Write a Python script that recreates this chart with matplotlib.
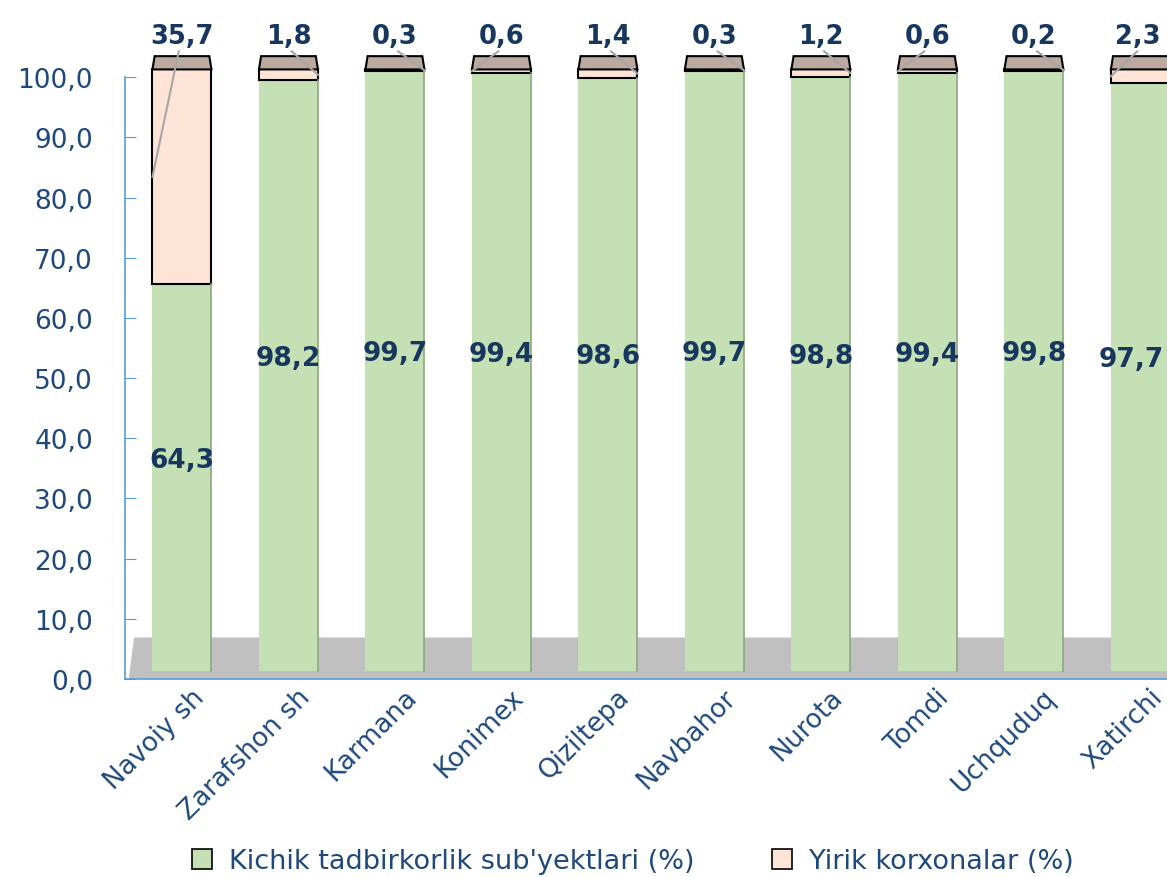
import matplotlib
matplotlib.use("Agg")
import matplotlib.pyplot as plt
import matplotlib.transforms as mtransforms
from matplotlib.patches import Polygon
from matplotlib.lines import Line2D

# data
districts = ["Navoiy sh", "Zarafshon sh", "Karmana", "Konimex", "Qiziltepa",
             "Navbahor", "Nurota", "Tomdi", "Uchquduq", "Xatirchi"]
small_biz = [64.3, 98.2, 99.7, 99.4, 98.6, 99.7, 98.8, 99.4, 99.8, 97.7]
large_ent = [35.7, 1.8, 0.3, 0.6, 1.4, 0.3, 1.2, 0.6, 0.2, 2.3]
# side of the bar the leader line of the top label goes to (-1 left, +1 right)
leader_side = [-1, 1, 1, -1, 1, 1, 1, -1, 1, -1]
legend_names = ["Kichik tadbirkorlik sub'yektlari (%)", "Yirik korxonalar (%)"]

# style
green = "#c5e0b4"
pink = "#fde4d6"
top_col = "#bcaaa1"
floor_col = "#c0c0c0"
axis_blue = "#5b9bd5"
tick_col = "#1f497d"
lab_col = "#17375e"
plt.rcParams["font.family"] = ["DejaVu Sans"]

fig = plt.figure(figsize=(11.67, 8.78), dpi=100)
ax = fig.add_axes([125 / 1167, 198 / 878, 1 - 125 / 1167, 680 / 878])
xmax = 9.25
ax.set_xlim(-0.535, xmax)
ax.set_ylim(0, 113)

base = 1.3      # bars stand on the 3d floor
width = 0.554
depth = 2.2

# floor
ax.add_patch(Polygon([(-0.50, 0), (-0.45, 6.9), (9.6, 6.9), (9.6, 0)],
                     closed=True, facecolor=floor_col, edgecolor="none", zorder=1))

x = list(range(len(districts)))
ax.bar(x, small_biz, width, bottom=base, color=green, edgecolor="none", zorder=2)
tops = [base + s for s in small_biz]
ax.bar(x, large_ent, width, bottom=tops, color=pink, edgecolor="black",
       linewidth=1.5, zorder=3)

for i in x:
    s, l = small_biz[i], large_ent[i]
    ytop = base + s + l
    # right side shade of the green part
    ax.plot([i + width / 2, i + width / 2], [base, base + s], color="#8da77e",
            lw=1.2, zorder=3)
    # top face
    ax.add_patch(Polygon([(i - width / 2, ytop), (i + width / 2, ytop),
                          (i + width / 2 - 0.02, ytop + depth),
                          (i - width / 2 + 0.02, ytop + depth)],
                         closed=True, facecolor=top_col, edgecolor="black",
                         linewidth=1.5, zorder=4))
    # green labels, kept inside the figure
    xl = min(i, xmax - 0.34)
    ax.text(xl, base + s / 2 + 3, ("%.1f" % s).replace(".", ","), ha="center",
            va="center", fontsize=19, fontweight="bold", color=lab_col, zorder=6)
    # top labels with leader lines
    xt = min(i, xmax - 0.27)
    ax.text(xt, 106.8, ("%.1f" % l).replace(".", ","), ha="center", va="center",
            fontsize=18.5, fontweight="bold", color=lab_col, zorder=6)
    ax.plot([i + 0.03 * leader_side[i], i + leader_side[i] * width / 2],
            [104.3, base + s + l / 2], color="#a6a6a6", lw=1.5, zorder=5)

# axes
for sp in ["top", "right"]:
    ax.spines[sp].set_visible(False)
ax.spines["left"].set_color(axis_blue)
ax.spines["bottom"].set_color(axis_blue)
ax.spines["left"].set_linewidth(1.2)
ax.spines["bottom"].set_linewidth(1.2)
ax.spines["left"].set_bounds(0, 100)
ax.set_yticks(range(0, 101, 10))
ax.set_yticklabels([("%.1f" % v).replace(".", ",") for v in range(0, 101, 10)])
ax.tick_params(axis="y", direction="in", length=8, color=axis_blue,
               labelcolor=tick_col, labelsize=19, pad=23)
ax.set_xticks([])

off = mtransforms.offset_copy(ax.get_xaxis_transform(), fig=fig, x=18, y=-14,
                              units="dots")
for i, name in enumerate(districts):
    ax.text(i, 0, name, transform=off, rotation=45, ha="right", va="center",
            rotation_mode="anchor", fontsize=19, color=tick_col)

handles = [Line2D([], [], marker="s", linestyle="none", markersize=14,
                  markerfacecolor=c, markeredgecolor="black", markeredgewidth=1.2)
           for c in [green, pink]]
fig.legend(handles, legend_names, loc="center", bbox_to_anchor=(0.535, 0.018),
           ncol=2, frameon=False, fontsize=19.5, labelcolor=tick_col,
           handletextpad=0.0, columnspacing=2.2)

fig.savefig("out.png", dpi=100)
